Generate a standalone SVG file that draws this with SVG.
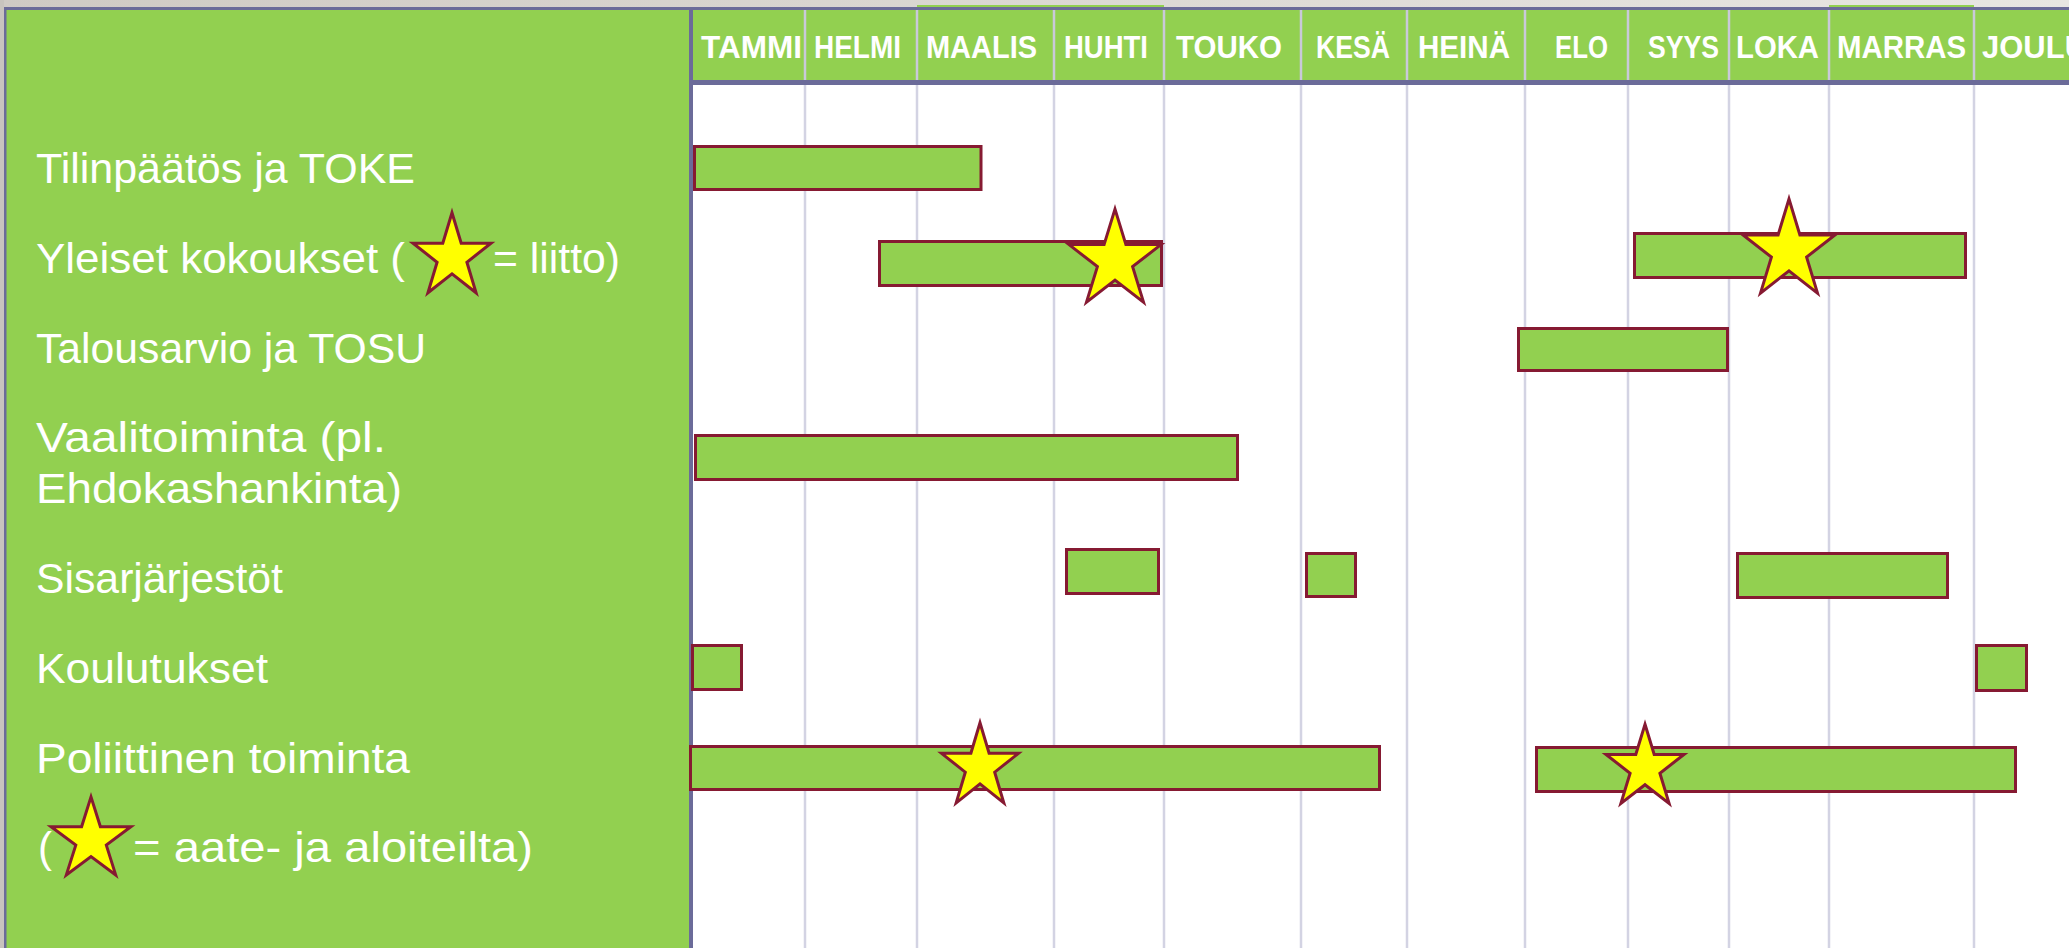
<svg xmlns="http://www.w3.org/2000/svg" width="2069" height="948" viewBox="0 0 2069 948">
<defs>
<linearGradient id="topbg" x1="0" y1="0" x2="1" y2="0">
<stop offset="0" stop-color="#cfcac4"/>
<stop offset="1" stop-color="#e8e6e2"/>
</linearGradient>
</defs>
<style>
.month{font-family:"Liberation Sans",Arial,sans-serif;font-weight:bold;font-size:32px;fill:#ffffff;}
.lbl{font-family:"Liberation Sans",Arial,sans-serif;font-size:42px;fill:#ffffff;}
.bar{fill:#92d050;stroke:#861a32;stroke-width:3;}
.star{fill:#ffff00;stroke:#861a32;stroke-width:3;stroke-linejoin:miter;}
.grid{stroke:#d3d3e3;stroke-width:2.5;}
.hgrid{stroke:#c9c9da;stroke-width:2.5;}
.frame{fill:#6b6b99;}
</style>
<g id="background">
<rect x="0" y="0" width="2069" height="948" fill="#ffffff"/>
<rect x="0" y="0" width="2069" height="9" fill="url(#topbg)"/>
<rect x="0" y="0" width="4" height="948" fill="#c8c4be"/>
</g>
<g id="header">
<rect x="693" y="10" width="1376" height="71" fill="#92d050"/>
<rect x="917" y="5" width="137" height="6" fill="#92d050"/>
<rect x="1054" y="5" width="110" height="6" fill="#92d050"/>
<rect x="1829" y="5" width="145" height="6" fill="#92d050"/>
<g class="hgrid">
<line x1="805" y1="10" x2="805" y2="80"/>
<line x1="917" y1="10" x2="917" y2="80"/>
<line x1="1054" y1="10" x2="1054" y2="80"/>
<line x1="1164" y1="10" x2="1164" y2="80"/>
<line x1="1301" y1="10" x2="1301" y2="80"/>
<line x1="1407" y1="10" x2="1407" y2="80"/>
<line x1="1525" y1="10" x2="1525" y2="80"/>
<line x1="1628" y1="10" x2="1628" y2="80"/>
<line x1="1729" y1="10" x2="1729" y2="80"/>
<line x1="1829" y1="10" x2="1829" y2="80"/>
<line x1="1974" y1="10" x2="1974" y2="80"/>
</g>
<text class="month" x="701" y="58" textLength="101" lengthAdjust="spacingAndGlyphs">TAMMI</text>
<text class="month" x="814" y="58" textLength="87" lengthAdjust="spacingAndGlyphs">HELMI</text>
<text class="month" x="926" y="58" textLength="111" lengthAdjust="spacingAndGlyphs">MAALIS</text>
<text class="month" x="1064" y="58" textLength="84" lengthAdjust="spacingAndGlyphs">HUHTI</text>
<text class="month" x="1176" y="58" textLength="106" lengthAdjust="spacingAndGlyphs">TOUKO</text>
<text class="month" x="1316" y="58" textLength="74" lengthAdjust="spacingAndGlyphs">KESÄ</text>
<text class="month" x="1418" y="58" textLength="92" lengthAdjust="spacingAndGlyphs">HEINÄ</text>
<text class="month" x="1555" y="58" textLength="53" lengthAdjust="spacingAndGlyphs">ELO</text>
<text class="month" x="1648" y="58" textLength="71" lengthAdjust="spacingAndGlyphs">SYYS</text>
<text class="month" x="1736" y="58" textLength="83" lengthAdjust="spacingAndGlyphs">LOKA</text>
<text class="month" x="1837" y="58" textLength="129" lengthAdjust="spacingAndGlyphs">MARRAS</text>
<text class="month" x="1982" y="58" textLength="105" lengthAdjust="spacingAndGlyphs">JOULU</text>
</g>
<g id="grid">
<g class="grid">
<line x1="805" y1="85" x2="805" y2="948"/>
<line x1="917" y1="85" x2="917" y2="948"/>
<line x1="1054" y1="85" x2="1054" y2="948"/>
<line x1="1164" y1="85" x2="1164" y2="948"/>
<line x1="1301" y1="85" x2="1301" y2="948"/>
<line x1="1407" y1="85" x2="1407" y2="948"/>
<line x1="1525" y1="85" x2="1525" y2="948"/>
<line x1="1628" y1="85" x2="1628" y2="948"/>
<line x1="1729" y1="85" x2="1729" y2="948"/>
<line x1="1829" y1="85" x2="1829" y2="948"/>
<line x1="1974" y1="85" x2="1974" y2="948"/>
</g>
</g>
<g id="left-panel">
<rect x="6" y="10" width="684" height="938" fill="#92d050"/>
</g>
<g id="frame">
<rect class="frame" x="4" y="7" width="2065" height="3"/>
<rect class="frame" x="4" y="7" width="2.5" height="941"/>
<rect class="frame" x="689" y="7" width="4" height="941"/>
<rect class="frame" x="693" y="80" width="1376" height="5"/>
</g>
<g id="row-tilinpaatos">
<text class="lbl" x="36" y="183" textLength="379" lengthAdjust="spacingAndGlyphs">Tilinpäätös ja TOKE</text>
<rect class="bar" x="694.5" y="146.5" width="286.5" height="43"/>
</g>
<g id="row-yleiset">
<text class="lbl" x="36" y="273" textLength="369" lengthAdjust="spacingAndGlyphs">Yleiset kokoukset (</text>
<polygon class="star" points="452,212.8 461.2,243.3 491,243.3 466.9,262.2 476.1,292.8 452,273.9 427.9,292.8 437.1,262.2 413,243.3 442.8,243.3"/>
<text class="lbl" x="493" y="273" textLength="127" lengthAdjust="spacingAndGlyphs">= liitto)</text>
<rect class="bar" x="879.5" y="241.5" width="282" height="44"/>
<polygon class="star" points="1115,209.1 1125.9,244.6 1161,244.6 1132.6,266.6 1143.5,302.1 1115,280.1 1086.5,302.1 1097.4,266.6 1069,244.6 1104.1,244.6"/>
<rect class="bar" x="1634.5" y="233.5" width="331" height="44"/>
<polygon class="star" points="1789,199 1799.9,234.9 1835,234.9 1806.6,257.1 1817.5,293.1 1789,270.9 1760.5,293.1 1771.4,257.1 1743,234.9 1778.1,234.9"/>
</g>
<g id="row-talousarvio">
<text class="lbl" x="36" y="363" textLength="390" lengthAdjust="spacingAndGlyphs">Talousarvio ja TOSU</text>
<rect class="bar" x="1518.5" y="328.5" width="209" height="42"/>
</g>
<g id="row-vaalitoiminta">
<text class="lbl" x="36" y="452" textLength="350" lengthAdjust="spacingAndGlyphs">Vaalitoiminta (pl.</text>
<text class="lbl" x="36" y="503" textLength="366" lengthAdjust="spacingAndGlyphs">Ehdokashankinta)</text>
<rect class="bar" x="695.5" y="435.5" width="542" height="44"/>
</g>
<g id="row-sisarjarjestot">
<text class="lbl" x="36" y="593" textLength="247" lengthAdjust="spacingAndGlyphs">Sisarjärjestöt</text>
<rect class="bar" x="1066.5" y="549.5" width="92" height="44"/>
<rect class="bar" x="1306.5" y="553.5" width="49" height="43"/>
<rect class="bar" x="1737.5" y="553.5" width="210" height="44"/>
</g>
<g id="row-koulutukset">
<text class="lbl" x="36" y="683" textLength="232" lengthAdjust="spacingAndGlyphs">Koulutukset</text>
<rect class="bar" x="692.5" y="645.5" width="49" height="44"/>
<rect class="bar" x="1976.5" y="645.5" width="50" height="45"/>
</g>
<g id="row-poliittinen">
<text class="lbl" x="36" y="773" textLength="374" lengthAdjust="spacingAndGlyphs">Poliittinen toiminta</text>
<rect class="bar" x="690.5" y="746.5" width="689" height="43"/>
<polygon class="star" points="980,722.8 989.1,753.3 1018.5,753.3 994.7,772.2 1003.8,802.8 980,783.9 956.2,802.8 965.3,772.2 941.5,753.3 970.9,753.3"/>
<rect class="bar" x="1536.5" y="747.5" width="479" height="44"/>
<polygon class="star" points="1645,724.3 1654.2,754.5 1684,754.5 1659.9,773.2 1669.1,803.4 1645,784.7 1620.9,803.4 1630.1,773.2 1606,754.5 1635.8,754.5"/>
</g>
<g id="legend-aloite">
<text class="lbl" x="38" y="862">(</text>
<polygon class="star" points="91,796.9 100.4,826.7 130.9,826.7 106.3,845.1 115.7,874.9 91,856.5 66.3,874.9 75.8,845.1 51.1,826.7 81.6,826.7"/>
<text class="lbl" x="133" y="862" textLength="400" lengthAdjust="spacingAndGlyphs">= aate- ja aloiteilta)</text>
</g>
<g id="connectors"></g>
</svg>
